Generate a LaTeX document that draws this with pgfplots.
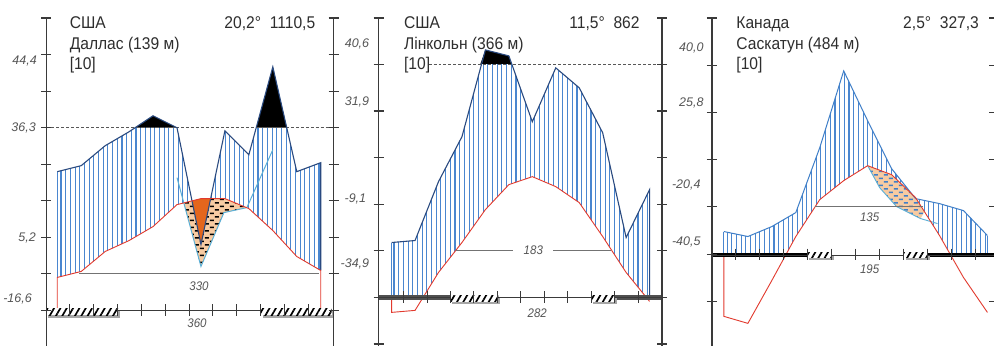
\documentclass[border=0pt]{standalone}
\usepackage{fontspec}
\setmainfont{Liberation Sans}[FakeStretch=0.92]
\newfontfamily\lblfont{Liberation Sans}
\usepackage{pgfplots}
\pgfplotsset{compat=1.18}
\usetikzlibrary{patterns,patterns.meta}
\definecolor{navy}{HTML}{2A4A80}
\definecolor{sblue}{HTML}{3F7FC8}
\definecolor{hatchc}{HTML}{4A86CF}
\definecolor{tred}{HTML}{E23A2E}
\definecolor{lorange}{HTML}{F7CBA2}
\definecolor{dorange}{HTML}{E4661C}
\definecolor{tealc}{HTML}{5AAFD6}
\definecolor{axisc}{HTML}{3A3A3A}
\definecolor{txt}{HTML}{2E2E2E}
\definecolor{lbl}{HTML}{555555}
\definecolor{barc}{HTML}{505050}
\pgfdeclarepatternformonly{dashmarks}{\pgfqpoint{0pt}{0pt}}{\pgfqpoint{10pt}{7pt}}{\pgfqpoint{10pt}{7pt}}{%
  \pgfpathrectangle{\pgfqpoint{1pt}{1pt}}{\pgfqpoint{4pt}{1.4pt}}%
  \pgfpathrectangle{\pgfqpoint{6pt}{4.5pt}}{\pgfqpoint{4pt}{1.4pt}}%
  \pgfusepath{fill}}
\tikzset{
  hatchfill/.style={draw=none, pattern={Lines[angle=90,distance=4.7pt,line width=1.1pt]}, pattern color=hatchc},
  slashbox/.style={draw=none, fill=white, postaction={pattern={Lines[angle=60,distance=5.5pt,line width=1.7pt]}, pattern color=black}},
  shadowbox/.style={draw=none, fill=black!35},
  axl/.style={axisc, line width=1.2pt},
  thinl/.style={black!55, line width=0.8pt},
  ttl/.style={anchor=base west, text=txt, font=\fontsize{17}{20}\selectfont},
  ttr/.style={anchor=base east, text=txt, font=\fontsize{17}{20}\selectfont},
  sidel/.style={anchor=east, text=lbl, font=\lblfont\fontsize{12.5}{14}\selectfont\itshape},
  numl/.style={anchor=center, text=lbl, font=\fontsize{12.5}{14}\selectfont\itshape},
}
\begin{document}
\begin{tikzpicture}
\begin{axis}[x=1pt, y=1pt, y dir=reverse, xmin=0, xmax=995, ymin=0, ymax=347,
  hide axis, clip=false, unbounded coords=jump]
\addplot[draw=none, fill=white] coordinates {(0,0) (995,0) (995,347) (0,347)} -- cycle;

%================ DALLAS ================
\addplot[hatchfill] coordinates {(56,172) (80,166) (104,146) (128,132) (152,116) (176,128) (200,245) (224,131) (248,155) (272,67) (296,172) (320,163)
  (320,271) (296,257) (272,231) (248,209) (224,199) (200,199) (176,205) (152,227) (128,241) (104,252) (80,272) (56,278)} -- cycle;
\addplot[fill=lorange, draw=none, postaction={pattern=dashmarks, pattern color=black}] coordinates {(182.8,203.3) (200,199) (224,199) (246,208.2) (223,213) (200,267)} -- cycle;
\addplot[fill=dorange, draw=none] coordinates {(191,201.2) (200,199) (209.7,199) (200,245)} -- cycle;
\addplot[fill=black, draw=none] coordinates {(134,127.9) (152,116) (176,127.9)} -- cycle;
\addplot[fill=black, draw=none] coordinates {(255.4,127.9) (272,67) (286,127.9)} -- cycle;
\addplot[axisc!85, line width=0.7pt, dash pattern=on 3pt off 2pt] coordinates {(40,127.9) (333,127.9)};
\addplot[hatchc, line width=1.1pt] coordinates {(56,172) (56,278)};
\addplot[tealc, line width=1pt] coordinates {(176,178) (200,267) (223,213) (246,208) (272,150)};
\addplot[navy, line width=1.1pt] coordinates {(56,172) (80,166) (104,146) (128,132) (152,116) (176,128) (200,245) (224,131) (248,155) (272,67) (296,172) (320,163) (320,271)};
\addplot[tred, line width=0.9pt] coordinates {(56,311.5) (56,278) (80,272) (104,252) (128,241) (152,227) (176,205) (200,199) (224,199) (248,209) (272,231) (296,257) (320,271) (320,311.5)};
\addplot[thinl] coordinates {(78,274.4) (318,274.4)};
% bar
\addplot[axisc, line width=0.8pt] coordinates {(45,311.5) (333,311.5)};
\addplot[shadowbox] coordinates {(47,312) (119,312) (119,318.5) (47,318.5)} -- cycle;
\addplot[slashbox] coordinates {(45,309) (117,309) (117,316) (45,316)} -- cycle;
\addplot[shadowbox] coordinates {(262,312) (333,312) (333,318.5) (262,318.5)} -- cycle;
\addplot[slashbox] coordinates {(260,309) (331,309) (331,316) (260,316)} -- cycle;
\addplot[axisc, line width=0.9pt] coordinates {(68,305) (68,317) (nan,nan) (92,305) (92,317) (nan,nan) (116,305) (116,317) (nan,nan) (140,305) (140,317) (nan,nan) (164,305) (164,317) (nan,nan) (188,305) (188,317) (nan,nan) (212,305) (212,317) (nan,nan) (236,305) (236,317) (nan,nan) (260,305) (260,317) (nan,nan) (284,305) (284,317) (nan,nan) (308,305) (308,317)};
% axes
\addplot[axl] coordinates {(45,18) (45,347)};
\addplot[axl] coordinates {(333,18) (333,347)};
\addplot[axl] coordinates {(40,18) (50,18) (nan,nan) (40,54.6) (50,54.6) (nan,nan) (40,91.3) (50,91.3) (nan,nan) (40,127.9) (50,127.9) (nan,nan) (40,164.5) (50,164.5) (nan,nan) (40,201.1) (50,201.1) (nan,nan) (40,237.8) (50,237.8) (nan,nan) (40,274.4) (50,274.4) (nan,nan) (40,311) (50,311)};
\addplot[axl] coordinates {(328,18) (338,18) (nan,nan) (328,54.6) (338,54.6) (nan,nan) (328,91.3) (338,91.3) (nan,nan) (328,127.9) (338,127.9) (nan,nan) (328,164.5) (338,164.5) (nan,nan) (328,201.1) (338,201.1) (nan,nan) (328,237.8) (338,237.8) (nan,nan) (328,274.4) (338,274.4) (nan,nan) (328,311) (338,311)};
\node[ttl] at (axis cs:65,29) {США};
\node[ttl] at (axis cs:65,50) {Даллас (139 м)};
\node[ttl] at (axis cs:65,70) {[10]};
\node[ttr] at (axis cs:318,29) {20,2°\ \ 1110,5};
\node[sidel] at (axis cs:39,61) {44,4};
\node[sidel] at (axis cs:38,128) {36,3};
\node[sidel] at (axis cs:38,238) {5,2};
\node[sidel] at (axis cs:34,300) {-16,6};
\node[numl] at (axis cs:198,287) {330};
\node[numl] at (axis cs:196,324) {360};

%================ LINCOLN ================
\addplot[hatchfill] coordinates {(391,243) (414.5,241) (438,182) (461.5,137) (485,50) (508.5,56) (532,122) (555.5,68) (579,88) (602.5,133) (626,238) (649.5,190)
  (649.5,298) (646.3,298) (626,273) (602.5,237) (579,203) (555.5,187) (532,177) (508.5,185) (485,210) (461.5,243) (438,273) (422.5,298) (391,298)} -- cycle;
\addplot[fill=black, draw=none] coordinates {(480,64) (485,50) (508.5,56) (510.8,64)} -- cycle;
\addplot[axisc!85, line width=0.7pt, dash pattern=on 3pt off 2pt] coordinates {(428,64) (662,64)};
\addplot[hatchc, line width=1.1pt] coordinates {(391,243) (391,298)};
\addplot[navy, line width=1.1pt] coordinates {(391,243) (414.5,241) (438,182) (461.5,137) (485,50) (508.5,56) (532,122) (555.5,68) (579,88) (602.5,133) (626,238) (649.5,190) (649.5,298)};
\addplot[tred, line width=0.9pt] coordinates {(391,298) (391,313) (414.5,311) (438,273) (461.5,243) (485,210) (508.5,185) (532,177) (555.5,187) (579,203) (602.5,237) (626,273) (649.5,302)};
\addplot[thinl] coordinates {(456,251) (513,251) (nan,nan) (553,251) (611,251)};
% bar
\addplot[fill=barc, draw=none] coordinates {(378,296) (450,296) (450,300.8) (378,300.8)} -- cycle;
\addplot[fill=barc, draw=none] coordinates {(615,296) (662,296) (662,300.8) (615,300.8)} -- cycle;
\addplot[axisc, line width=0.8pt] coordinates {(378,298.4) (662,298.4)};
\addplot[shadowbox] coordinates {(452,299) (500,299) (500,305) (452,305)} -- cycle;
\addplot[slashbox] coordinates {(450,296) (498,296) (498,302.5) (450,302.5)} -- cycle;
\addplot[shadowbox] coordinates {(593,299) (617,299) (617,305) (593,305)} -- cycle;
\addplot[slashbox] coordinates {(591,296) (615,296) (615,302.5) (591,302.5)} -- cycle;
\addplot[axisc, line width=0.9pt] coordinates {(403,292) (403,304) (nan,nan) (426.5,292) (426.5,304) (nan,nan) (450,292) (450,304) (nan,nan) (473.5,292) (473.5,304) (nan,nan) (497,292) (497,304) (nan,nan) (520.5,292) (520.5,304) (nan,nan) (544,292) (544,304) (nan,nan) (567.5,292) (567.5,304) (nan,nan) (591,292) (591,304) (nan,nan) (614.5,292) (614.5,304) (nan,nan) (638,292) (638,304)};
\addplot[axl] coordinates {(378,18) (378,347)};
\addplot[axl] coordinates {(662,18) (662,347)};
\addplot[axl] coordinates {(373,18) (383,18) (nan,nan) (373,64.7) (383,64.7) (nan,nan) (373,111.3) (383,111.3) (nan,nan) (373,158) (383,158) (nan,nan) (373,204.7) (383,204.7) (nan,nan) (373,251.3) (383,251.3) (nan,nan) (373,298) (383,298) (nan,nan) (373,344.7) (383,344.7)};
\addplot[axl] coordinates {(657,18) (667,18) (nan,nan) (657,64.7) (667,64.7) (nan,nan) (657,111.3) (667,111.3) (nan,nan) (657,158) (667,158) (nan,nan) (657,204.7) (667,204.7) (nan,nan) (657,251.3) (667,251.3) (nan,nan) (657,298) (667,298) (nan,nan) (657,344.7) (667,344.7)};
\node[ttl] at (axis cs:400,29) {США};
\node[ttl] at (axis cs:400,50) {Лінкольн (366 м)};
\node[ttl] at (axis cs:400,70) {[10]};
\node[ttr] at (axis cs:643,29) {11,5°\ \ 862};
\node[sidel] at (axis cs:372,44) {40,6};
\node[sidel] at (axis cs:372,102) {31,9};
\node[sidel] at (axis cs:369,199) {-9,1};
\node[sidel] at (axis cs:372,264) {-34,9};
\node[numl] at (axis cs:533,251) {183};
\node[numl] at (axis cs:537,314) {282};

%================ SASKATOON ================
\addplot[hatchfill] coordinates {(724,232) (748,237) (772,227) (796,213) (820,148) (844,71) (868,121) (892,169) (916,199) (940,204) (964,211) (988,236)
  (988,255) (950.9,255) (940,236) (916,198) (892,175) (868,166) (844,181) (820,200) (796,237) (786.2,255) (724,255)} -- cycle;
\addplot[fill=lorange, draw=none, postaction={pattern=dashmarks, pattern color=sblue}] coordinates {(868,166) (892,175) (916,198) (925,212) (921,219) (897,207) (880,188)} -- cycle;
\addplot[hatchc, line width=1.1pt] coordinates {(724,232) (724,255)};
\addplot[hatchc, line width=1.1pt] coordinates {(988,236) (988,255)};
\addplot[tealc, line width=0.9pt] coordinates {(868,166) (880,188) (897,207) (921,219) (938,224)};
\addplot[sblue, line width=1pt] coordinates {(724,232) (748,237) (772,227) (796,213) (820,148) (844,71) (868,121) (892,169) (916,199) (940,204) (964,211) (988,236)};
\addplot[tred, line width=0.9pt] coordinates {(724,255) (724,317) (748,324) (772,281) (796,237) (820,200) (844,181) (868,166) (892,175) (916,198) (940,236) (964,278) (988,313)};
\addplot[thinl] coordinates {(815,207.3) (923,207.3)};
% bar
\addplot[fill=black, draw=none] coordinates {(712,253) (807,253) (807,258) (712,258)} -- cycle;
\addplot[fill=black, draw=none] coordinates {(928,253) (995,253) (995,258) (928,258)} -- cycle;
\addplot[axisc, line width=0.8pt] coordinates {(712,255.5) (995,255.5)};
\addplot[shadowbox] coordinates {(809,256) (834,256) (834,261) (809,261)} -- cycle;
\addplot[slashbox] coordinates {(807,252.5) (832,252.5) (832,258.5) (807,258.5)} -- cycle;
\addplot[shadowbox] coordinates {(906,256) (930,256) (930,261) (906,261)} -- cycle;
\addplot[slashbox] coordinates {(904,252.5) (928,252.5) (928,258.5) (904,258.5)} -- cycle;
\addplot[axisc, line width=0.9pt] coordinates {(736,249) (736,261) (nan,nan) (760,249) (760,261) (nan,nan) (784,249) (784,261) (nan,nan) (808,249) (808,261) (nan,nan) (832,249) (832,261) (nan,nan) (856,249) (856,261) (nan,nan) (880,249) (880,261) (nan,nan) (904,249) (904,261) (nan,nan) (928,249) (928,261) (nan,nan) (952,249) (952,261) (nan,nan) (976,249) (976,261)};
\addplot[axl] coordinates {(712,18) (712,347)};
\addplot[axl] coordinates {(707,18) (717,18) (nan,nan) (707,65.3) (717,65.3) (nan,nan) (707,112.7) (717,112.7) (nan,nan) (707,160) (717,160) (nan,nan) (707,207.3) (717,207.3) (nan,nan) (707,254.7) (717,254.7) (nan,nan) (707,302) (717,302)};
\addplot[axl] coordinates {(990,18) (995,18) (nan,nan) (990,65.3) (995,65.3) (nan,nan) (990,112.7) (995,112.7) (nan,nan) (990,160) (995,160) (nan,nan) (990,207.3) (995,207.3) (nan,nan) (990,302) (995,302)};
\node[ttl] at (axis cs:733,29) {Канада};
\node[ttl] at (axis cs:733,50) {Саскатун (484 м)};
\node[ttl] at (axis cs:733,70) {[10]};
\node[ttr] at (axis cs:983,29) {2,5°\ \ 327,3};
\node[sidel] at (axis cs:707,48) {40,0};
\node[sidel] at (axis cs:707,103) {25,8};
\node[sidel] at (axis cs:704,185) {-20,4};
\node[sidel] at (axis cs:704,242) {-40,5};
\node[numl] at (axis cs:870,218) {135};
\node[numl] at (axis cs:870,270) {195};
\end{axis}
\end{tikzpicture}
\end{document}
